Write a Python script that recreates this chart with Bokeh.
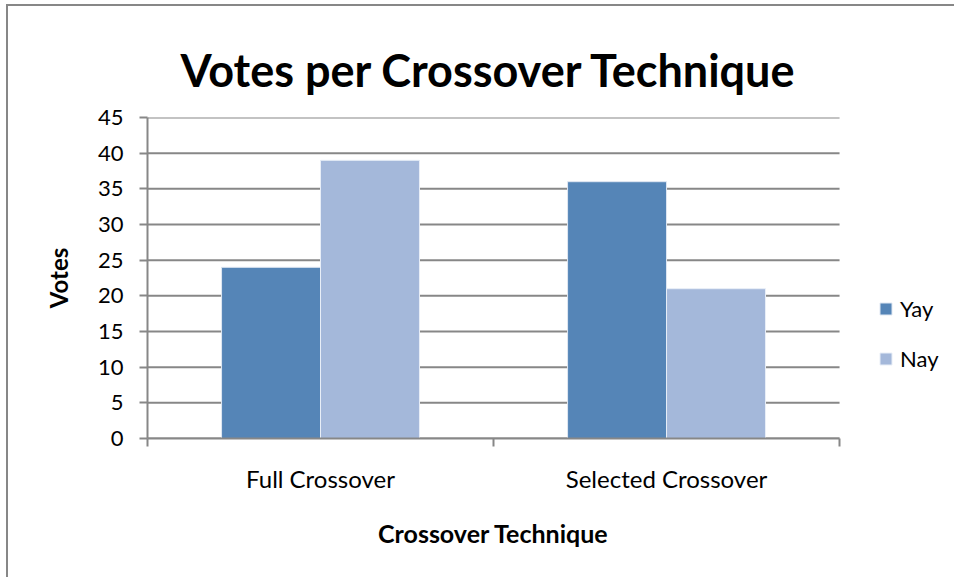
from bokeh.plotting import figure
from bokeh.models import (ColumnDataSource, FixedTicker, Legend, LegendItem,
                          LinearAxis, Range1d, Title)
from bokeh.embed import file_html
from bokeh.resources import INLINE

# Vote counts per crossover technique
categories = ["Full Crossover", "Selected Crossover"]
yay = [24, 36]
nay = [39, 21]
y_ticks = [0, 5, 10, 15, 20, 25, 30, 35, 40, 45]

YAY_COLOR = "#5585B7"
NAY_COLOR = "#A4B8DA"
GRID = "#878787"
FONT = "Lato"

n = len(categories)
centers = [i + 0.5 for i in range(n)]
bar_w = 0.286
src = ColumnDataSource(dict(
    x_yay=[c - bar_w / 2 for c in centers],
    x_nay=[c + bar_w / 2 for c in centers],
    yay=yay, nay=nay,
))

# The frame runs on to the right edge so the legend can sit beside the bars;
# the category axis and the gridlines stop at the last category.
p = figure(width=948, height=573, output_backend="svg", toolbar_location=None,
           title=None,
           x_range=Range1d(0, n + 0.338), y_range=Range1d(0, 45),
           min_border_left=139, min_border_right=0,
           min_border_top=111, min_border_bottom=141,
           styles={"border-left": "2px solid #878787",
                   "border-top": "2px solid #878787",
                   "margin-left": "6px", "margin-top": "4px"})
p.outline_line_color = None
p.background_fill_color = "white"
p.border_fill_color = "white"

# horizontal gridlines, drawn under the bars
p.segment(x0=[0] * len(y_ticks), x1=[n] * len(y_ticks), y0=y_ticks, y1=y_ticks,
          line_color=GRID, line_width=2)

r_yay = p.vbar(x="x_yay", top="yay", width=bar_w, source=src,
               fill_color=YAY_COLOR, line_color="#dfe7f2", line_width=1)
r_nay = p.vbar(x="x_nay", top="nay", width=bar_w, source=src,
               fill_color=NAY_COLOR, line_color="#e8eef7", line_width=1)

# y axis
p.yaxis.ticker = FixedTicker(ticks=y_ticks)
p.yaxis.axis_line_color = GRID
p.yaxis.axis_line_width = 2
p.yaxis.major_tick_line_color = GRID
p.yaxis.major_tick_line_width = 2
p.yaxis.major_tick_out = 8
p.yaxis.major_tick_in = 0
p.yaxis.minor_tick_line_color = None
p.yaxis.major_label_text_font = FONT
p.yaxis.major_label_text_font_size = "22px"
p.yaxis.major_label_text_color = "black"
p.yaxis.major_label_standoff = 16
p.yaxis.axis_label = "Votes"
p.yaxis.axis_label_text_font = FONT
p.yaxis.axis_label_text_font_style = "bold"
p.yaxis.axis_label_text_font_size = "24px"
p.yaxis.axis_label_text_color = "black"
p.yaxis.axis_label_standoff = 22

# x axis: labels at category centres, tick marks at the category boundaries
p.xaxis.bounds = (0, n)
p.xaxis.ticker = FixedTicker(ticks=centers, minor_ticks=list(range(n + 1)))
p.xaxis.major_label_overrides = {c: name for c, name in zip(centers, categories)}
p.xaxis.axis_line_color = GRID
p.xaxis.axis_line_width = 2
p.xaxis.major_tick_line_color = None
p.xaxis.minor_tick_line_color = GRID
p.xaxis.minor_tick_line_width = 2
p.xaxis.minor_tick_out = 8
p.xaxis.minor_tick_in = 0
p.xaxis.major_label_text_font = FONT
p.xaxis.major_label_text_font_size = "24px"
p.xaxis.major_label_text_color = "black"
p.xaxis.major_label_standoff = 17

# x-axis title, centred under the two categories
mid = n / 2
x_title = LinearAxis(ticker=FixedTicker(ticks=[mid]),
                     major_label_overrides={mid: "Crossover Technique"},
                     axis_line_color=None, major_tick_line_color=None,
                     minor_tick_line_color=None,
                     major_tick_out=0, major_tick_in=0,
                     major_label_text_font=FONT,
                     major_label_text_font_style="bold",
                     major_label_text_font_size="25px",
                     major_label_text_color="black",
                     major_label_standoff=22)
p.add_layout(x_title, "below")

p.xgrid.grid_line_color = None
p.ygrid.grid_line_color = None

# chart title; a transparent spacer (added first, so nearest the plot area)
# lifts it away from the top gridline
spacer = Title(text=".", text_font_size="1px", text_alpha=0, standoff=12)
main_title = Title(text="Votes per Crossover Technique", text_font=FONT,
                   text_font_size="45px", text_font_style="bold",
                   text_color="black", align="left", offset=33, standoff=42)
p.add_layout(spacer, "above")
p.add_layout(main_title, "above")

legend = Legend(items=[LegendItem(label="Yay", renderers=[r_yay]),
                       LegendItem(label="Nay", renderers=[r_nay])],
                location=(731, 66), orientation="vertical",
                label_text_font=FONT, label_text_font_size="22px",
                label_text_color="black",
                glyph_width=15, glyph_height=15, spacing=23,
                label_standoff=7, margin=0, padding=0,
                border_line_color=None, background_fill_alpha=0)
p.add_layout(legend, "center")

open("out.html", "w").write(file_html(p, INLINE))
